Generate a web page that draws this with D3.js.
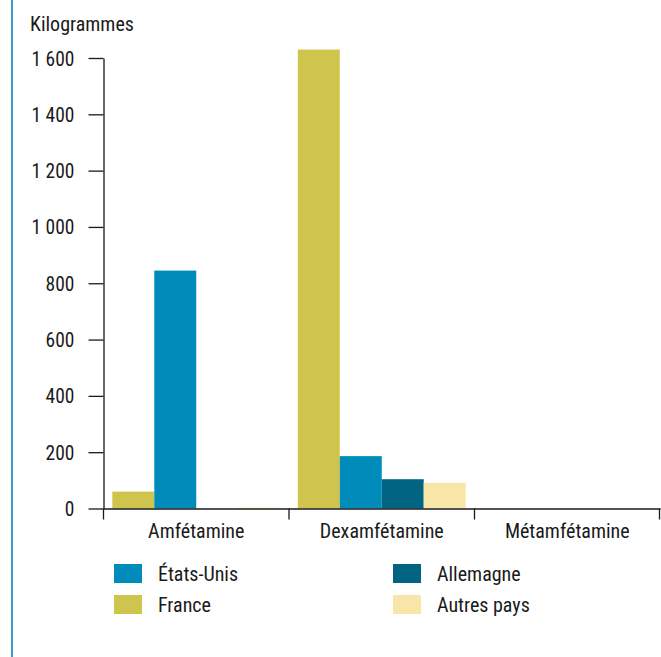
<!DOCTYPE html>
<html><head><meta charset="utf-8">
<script src="https://cdn.jsdelivr.net/npm/d3@7"></script>
<style>
html,body{margin:0;padding:0;background:#fff;}
svg text{font-family:"Roboto Condensed","Liberation Sans Narrow","Roboto",sans-serif;fill:#1a1a1a;}
</style></head>
<body><svg id="c" width="661" height="657"></svg>
<script>
const categories = ["Amfétamine", "Dexamfétamine", "Métamfétamine"];
const seriesNames = ["France", "États-Unis", "Allemagne", "Autres pays"];
const france = [60, 1630, 0];
const etatsUnis = [845, 186, 0];
const allemagne = [0, 104, 0];
const autresPays = [3, 91, 0];
const yTicks = [0, 200, 400, 600, 800, 1000, 1200, 1400, 1600];
const colors = ["#d0c54c", "#008cba", "#006482", "#f8e6a8"];
const legendOrder = ["États-Unis", "Allemagne", "France", "Autres pays"];

const values = [france, etatsUnis, allemagne, autresPays];
const svg = d3.select("#c");

// left decorative rule
svg.append("rect").attr("x", 11).attr("y", 0).attr("width", 2).attr("height", 657).attr("fill", "#3d9cc6");

const x0 = 103.5, x1 = 660, yTop = 58, yBot = 508.5;
const x = d3.scaleBand().domain(categories).range([x0, x1]).paddingInner(0).paddingOuter(0);
const xs = d3.scaleBand().domain(seriesNames).range([0, x.bandwidth()]).paddingInner(0).paddingOuter(0.21);
const y = d3.scaleLinear().domain([0, 1600]).range([yBot, yTop]);

// bars
seriesNames.forEach((s, si) => {
  svg.append("g").selectAll("rect").data(categories).join("rect")
    .attr("x", c => x(c) + xs(s))
    .attr("width", xs.bandwidth())
    .attr("y", (c, i) => y(values[si][i]))
    .attr("height", (c, i) => yBot - y(values[si][i]))
    .attr("fill", colors[si]);
});

const fmt2 = v => { const s = String(v); return s.length > 3 ? s.slice(0, s.length-3) + " " + s.slice(-3) : s; };

// y axis
const ya = svg.append("g").attr("transform", `translate(${x0},0)`)
  .call(d3.axisLeft(y).tickValues(yTicks).tickSize(15).tickSizeOuter(0).tickPadding(14).tickFormat(fmt2));
ya.selectAll("path,line").attr("stroke", "#1a1a1a").attr("stroke-width", 1.3);
ya.selectAll("text").style("font-size", "19.5px").attr("dy", "0.36em");

// x axis
const xa = svg.append("g").attr("transform", `translate(0,${yBot})`)
  .call(d3.axisBottom(x).tickSize(0).tickPadding(15));
xa.select(".domain").attr("stroke", "#1a1a1a").attr("stroke-width", 1.3);
xa.selectAll("text").style("font-size", "20px");
const bounds = categories.map(c => x(c)).concat([x(categories[categories.length-1]) + x.bandwidth()]);
xa.selectAll("line.b").data(bounds).join("line").attr("class", "b")
  .attr("x1", d => Math.min(d, 659.5)).attr("x2", d => Math.min(d, 659.5))
  .attr("y1", 0).attr("y2", 11).attr("stroke", "#1a1a1a").attr("stroke-width", 1.3);

// title
svg.append("text").attr("x", 30).attr("y", 31).style("font-size", "20px").text("Kilogrammes");

// legend
const legPos = [[114, 564], [393, 564], [114, 595], [393, 595]];
legendOrder.forEach((name, i) => {
  const [lx, ly] = legPos[i];
  const g = svg.append("g").attr("transform", `translate(${lx},${ly})`);
  g.append("rect").attr("width", 28).attr("height", 19).attr("fill", colors[seriesNames.indexOf(name)]);
  g.append("text").attr("x", 44).attr("y", 17).style("font-size", "20px").text(name);
});
</script></body></html>
